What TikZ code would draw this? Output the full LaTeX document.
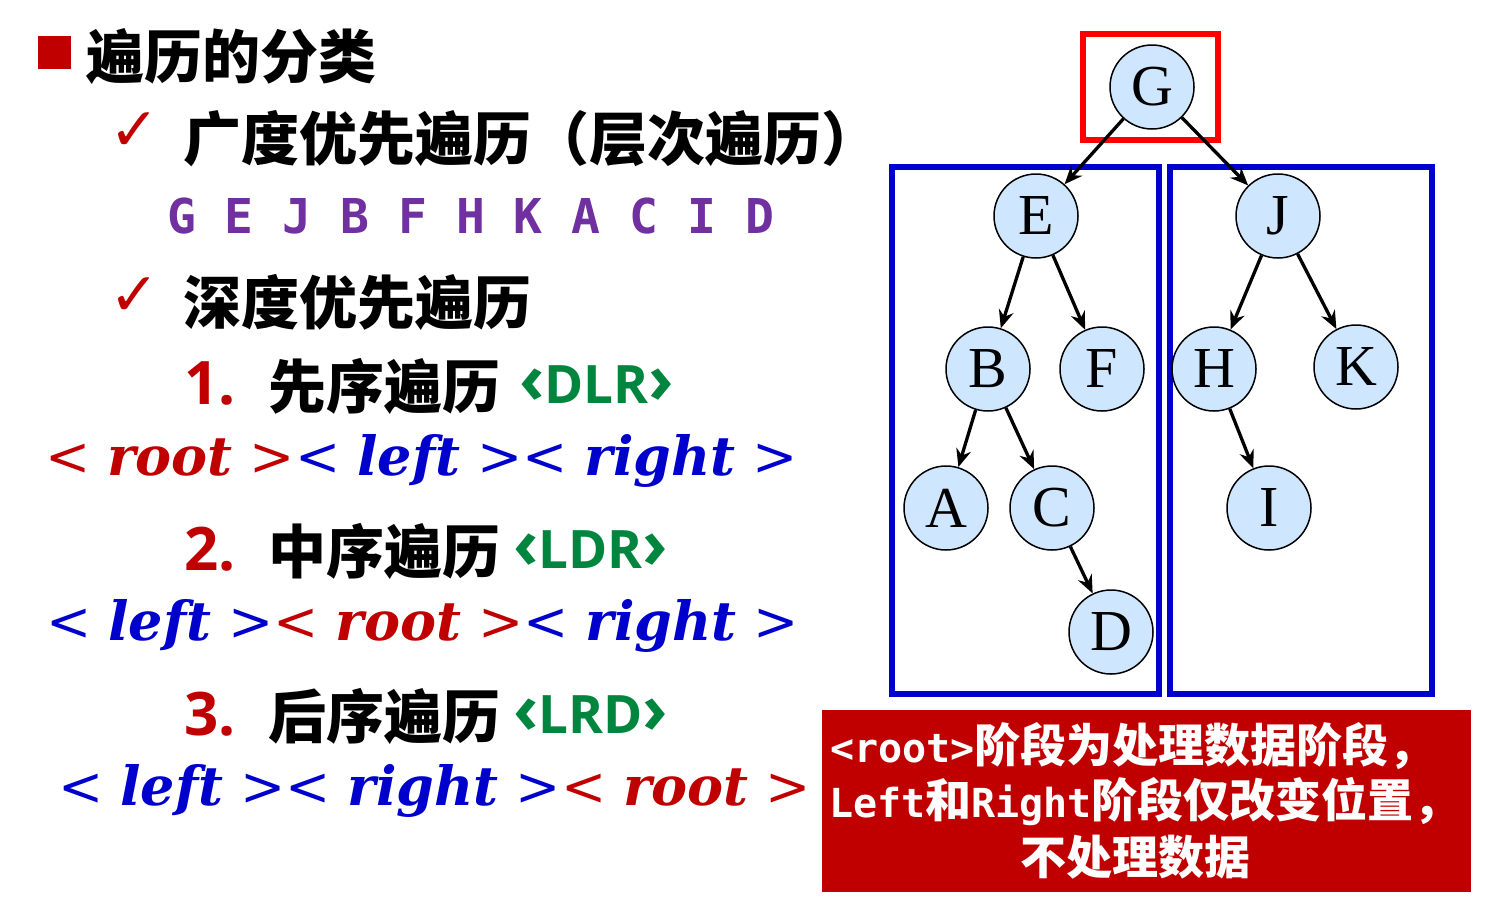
\documentclass[tikz,border=0pt]{standalone}
\usepackage{fontspec}
\usetikzlibrary{arrows.meta}
\newfontfamily\cjk{Noto Sans CJK SC}
\newfontfamily\numfont{Open Sans}
\newfontfamily\monofont{DejaVu Sans Mono}
\newfontfamily\mathserif{DejaVu Serif}
\newfontfamily\treefont{Liberation Serif}
\newfontfamily\symfont{DejaVu Sans}
\definecolor{darkred}{HTML}{C00000}
\definecolor{textblue}{HTML}{0000CC}
\definecolor{seqpurple}{HTML}{7030A0}
\definecolor{tagreen}{HTML}{00853F}
\definecolor{nodeblue}{HTML}{CFE6FF}
\newcommand\setfs[1]{\fontsize{#1}{#1}\selectfont}
% one <...> part of a traversal order
\newcommand\trav[2]{\textcolor{#1}{{\mathserif<}\hspace{17pt}{\mathserif\bfseries\itshape #2}\hspace{17pt}{\mathserif>}}}
% order tag like <DLR>
\newcommand\ordtag[1]{{\setfs{69}‹}#1{\setfs{69}›}}
\begin{document}
\begin{tikzpicture}[x=1pt, y=-1pt,
  txt/.style={anchor=base west, inner sep=0pt},
  tnode/.style={shape=circle, draw=black, line width=1.5pt, fill=nodeblue, minimum size=84pt, inner sep=0pt, font=\treefont\setfs{58}},
  tedge/.style={-{Stealth[length=18pt, width=15pt, inset=6pt]}, line width=3.3pt},
  subtree/.style={draw=textblue, line width=6pt},
  rootbox/.style={draw=red, line width=6pt},
  notebox/.style={fill=darkred, inner sep=0pt, minimum width=649pt, minimum height=182pt}]
\useasboundingbox (0,0) rectangle (1493,911);
% left column
\node[fill=darkred, minimum size=33pt, inner sep=0pt] (bullet) at (54.5,52.5) {};
\node[txt] (title) at (86,78) {\cjk\bfseries\setfs{58}遍历的分类};
\node[txt, text=darkred] (chk1) at (109,150) {\symfont\setfs{60}✓};
\node[txt] (bfs) at (183,160) {\cjk\bfseries\setfs{58}广度优先遍历（层次遍历）};
\node[txt, text=seqpurple] (bfsseq) at (167,233) {\monofont\bfseries\setfs{48}G E J B F H K A C I D};
\node[txt, text=darkred] (chk2) at (109,315) {\symfont\setfs{60}✓};
\node[txt] (dfs) at (183,324) {\cjk\bfseries\setfs{58}深度优先遍历};
\node[txt, text=darkred] (n1) at (184,404) {\numfont\bfseries\setfs{60}1.};
\node[txt] (pre) at (268,408) {\cjk\bfseries\setfs{58}先序遍历};
\node[txt, text=tagreen] (dlr) at (519,403) {\numfont\bfseries\setfs{53}\ordtag{DLR}};
\node[txt] (preord) at (45,475) {\setfs{54}\trav{darkred}{root}\trav{textblue}{left}\trav{textblue}{right}};
\node[txt, text=darkred] (n2) at (184,570) {\numfont\bfseries\setfs{60}2.};
\node[txt] (in) at (268,573) {\cjk\bfseries\setfs{58}中序遍历};
\node[txt, text=tagreen] (ldr) at (513,568) {\numfont\bfseries\setfs{53}\ordtag{LDR}};
\node[txt] (inord) at (46,640) {\setfs{54}\trav{textblue}{left}\trav{darkred}{root}\trav{textblue}{right}};
\node[txt, text=darkred] (n3) at (184,735) {\numfont\bfseries\setfs{60}3.};
\node[txt] (post) at (268,738) {\cjk\bfseries\setfs{58}后序遍历};
\node[txt, text=tagreen] (lrd) at (513,733) {\numfont\bfseries\setfs{53}\ordtag{LRD}};
\node[txt] (postord) at (58,805) {\setfs{54}\trav{textblue}{left}\trav{textblue}{right}\trav{darkred}{root}};
% tree
\draw[rootbox] (1083,34) rectangle (1218,140);
\draw[subtree] (892,167) rectangle (1159,694);
\draw[subtree] (1170,167) rectangle (1432,694);
\node[tnode] (G) at (1152,87) {G};
\node[tnode] (E) at (1036,216) {E};
\node[tnode] (J) at (1278,216) {J};
\node[tnode] (B) at (988,369) {B};
\node[tnode] (F) at (1102,369) {F};
\node[tnode] (H) at (1214,369) {H};
\node[tnode] (K) at (1356,367) {K};
\node[tnode] (A) at (946,508) {A};
\node[tnode] (C) at (1052,508) {C};
\node[tnode] (I) at (1269,508) {I};
\node[tnode] (D) at (1111,632) {D};
\path[tedge] (G) edge (E);
\path[tedge] (G) edge (J);
\path[tedge] (E) edge (B);
\path[tedge] (E) edge (F);
\path[tedge] (J) edge (H);
\path[tedge] (J) edge (K);
\path[tedge] (B) edge (A);
\path[tedge] (B) edge (C);
\path[tedge] (C) edge (D);
\path[tedge] (H) edge (I);
% note
\node[notebox] (note) at (1146.5,801) {};
\node[txt, text=white] (note1) at (830,762) {\monofont\bfseries\setfs{40}<root>\cjk\bfseries\setfs{46}阶段为处理数据阶段，};
\node[txt, text=white] (note2) at (829,817) {\monofont\bfseries\setfs{40}Left\cjk\bfseries\setfs{46}和\monofont\bfseries\setfs{40}Right\cjk\bfseries\setfs{46}阶段仅改变位置，};
\node[anchor=base, inner sep=0pt, text=white] (note3) at (1135,874) {\cjk\bfseries\setfs{46}不处理数据};
\end{tikzpicture}
\end{document}
